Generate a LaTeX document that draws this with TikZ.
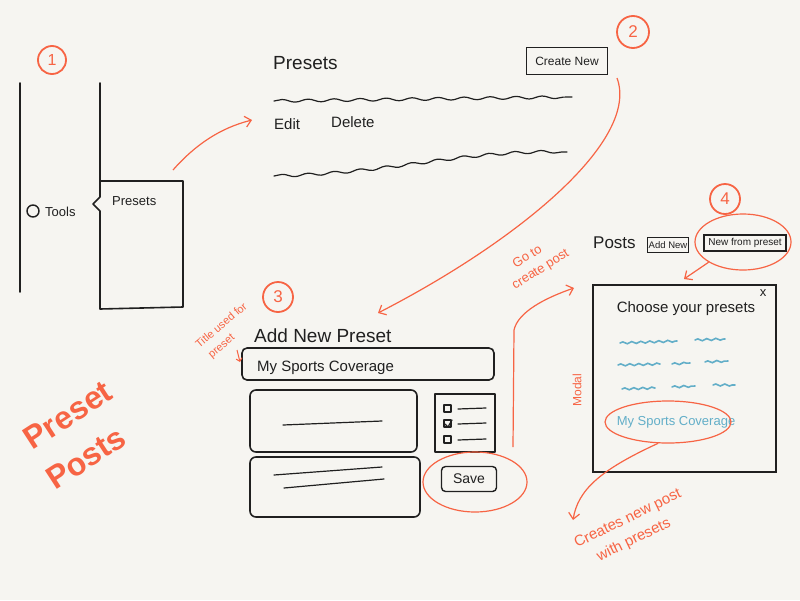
\documentclass[tikz,border=0pt]{standalone}
\usepackage{fontspec}
\setmainfont{Liberation Sans}
\definecolor{skorange}{RGB}{247,100,68}
\definecolor{skblue}{RGB}{98,174,200}
\definecolor{skink}{RGB}{32,32,32}
\definecolor{skpaper}{RGB}{246,245,241}
\newcommand{\skfont}[2]{\fontsize{#1}{#2}\selectfont}
\usetikzlibrary{arrows.meta,positioning,shapes.geometric,calc,decorations.pathmorphing}

\begin{document}
\begin{tikzpicture}[x=1pt,y=-1pt,every node/.style={inner sep=1pt,text=skink},
    ink/.style={draw=skink,line width=1.6pt,line cap=round,line join=round},
    btn/.style={draw=skink,line width=1.4pt,inner sep=2pt},
    ring/.style={circle,draw=skorange,line width=1.8pt,text=skorange,inner sep=0pt},
    loopmark/.style={ellipse,draw=skorange,line width=1.2pt,inner sep=0pt},
    note/.style={text=skorange,inner sep=0pt},
    arr/.style={-{Straight Barb[length=6pt,width=11pt]},line width=1.2pt,draw=skorange},
    wave/.style={ink,line width=1.2pt,decorate,decoration={snake,amplitude=1.4pt,segment length=26pt}},
    bluewave/.style={draw=skblue,line width=1.6pt,line cap=round,decorate,decoration={snake,amplitude=1pt,segment length=9pt}}]

  \fill[skpaper] (0,0) rectangle (800,600);
  \useasboundingbox (0,0) rectangle (800,600);

  % sidebar
  \node[ring,minimum size=28pt,font=\skfont{16}{16}] (one) at (52,60) {1};
  \draw[ink] (20,83) -- (20,292);
  \draw[ink] (100,83) -- (100,197) -- (93,204) -- (100,211) -- (100,309)
             -- (183,307) -- (183,181) -- (100,181);
  \node[circle,draw=skink,line width=1.4pt,minimum size=12pt,inner sep=0pt] (toolsdot) at (33,211) {};
  \node[font=\skfont{13}{15},anchor=west] (tools) at (44,212) {Tools};
  \node[font=\skfont{13}{15},anchor=west] (sbpresets) at (111,201) {Presets};

  % presets list
  \node[font=\skfont{19}{22},anchor=west] (listhead) at (272,63) {Presets};
  \node[btn,minimum width=81pt,minimum height=27pt,font=\skfont{12}{14}] (createnew) at (567,61) {Create New};
  \node[ring,minimum size=32pt,font=\skfont{17}{17}] (two) at (633,32) {2};
  \draw[wave] (274,101) -- (572,97);
  \node[font=\skfont{15}{17},anchor=west] (edit) at (273,124) {Edit};
  \node[font=\skfont{15}{17},anchor=west] (delete) at (330,122) {Delete};
  \draw[wave] (274,176) .. controls (400,172) and (450,150) .. (567,152);

  % add new preset form
  \node[ring,minimum size=30pt,font=\skfont{17}{17}] (three) at (278,297) {3};
  \node[font=\skfont{19}{22},anchor=west] (formhead) at (253,336) {Add New Preset};
  \draw[ink,rounded corners=5pt] (242,348) rectangle (494,380);
  \node[font=\skfont{15}{17},anchor=west] (fieldtext) at (256,368) {My Sports Coverage};
  \draw[ink,rounded corners=6pt] (250,390) rectangle (417,452);
  \draw[ink,line width=1.2pt] (283,425) -- (382,421);
  \draw[ink,rounded corners=6pt] (250,457) rectangle (420,517);
  \draw[ink,line width=1.2pt] (274,475) -- (382,467);
  \draw[ink,line width=1.2pt] (284,488) -- (384,479);
  \draw[ink] (435,394) rectangle (495,452);
  \foreach \yy in {409,424,440}{
    \draw[ink,line width=1.2pt] (444,\yy-4) rectangle (451,\yy+3);
    \draw[ink,line width=1.2pt] (458,\yy) -- (486,\yy-1);
  }
  \draw[ink,line width=1.2pt] (445,424) -- (448,427) -- (452,420);
  \node[btn,rounded corners=4pt,minimum width=55pt,minimum height=25pt,font=\skfont{14}{16}] (save) at (469,479) {Save};
  \node[loopmark,minimum width=104pt,minimum height=60pt] (saveloop) at (475,482) {};

  % posts screen
  \node[font=\skfont{17}{19},anchor=west] (posts) at (592,243) {Posts};
  \node[btn,font=\skfont{9.5}{11},minimum width=40pt,minimum height=15pt,inner sep=1pt] (addnew) at (668,245) {Add New};
  \node[btn,font=\skfont{10}{12},minimum width=82pt,minimum height=16pt,inner sep=1pt] (fromprst) at (745,243) {New from preset};
  \node[ring,minimum size=30pt,font=\skfont{17}{17}] (four) at (725,199) {4};
  \node[loopmark,minimum width=96pt,minimum height=56pt] (fromloop) at (743,242) {};

  % modal
  \node[draw=skink,line width=2.2pt,minimum width=183pt,minimum height=187pt] (modal) at (684.5,378.5) {};
  \node[font=\skfont{13}{13}] (closex) at (763,293) {x};
  \node[font=\skfont{15}{17}] (choose) at (686,309) {Choose your presets};
  \draw[bluewave] (620,343) -- (677,341);
  \draw[bluewave] (695,340) -- (725,339);
  \draw[bluewave] (618,365) -- (660,364);
  \draw[bluewave] (672,364) -- (690,363);
  \draw[bluewave] (705,362) -- (728,361);
  \draw[bluewave] (622,389) -- (655,388);
  \draw[bluewave] (672,387) -- (695,386);
  \draw[bluewave] (713,385) -- (735,385);
  \node[font=\skfont{13}{15},text=skblue] (pickme) at (676,422) {My Sports Coverage};
  \node[loopmark,minimum width=126pt,minimum height=42pt] (pickloop) at (668,422) {};
  \node[note,rotate=90,font=\skfont{12}{14}] (modalnote) at (577,390) {Modal};

  % orange notes
  \node[note,rotate=40,font=\skfont{11}{12}] (titlenote) at (221,325) {Title used for};
  \node[note,rotate=40,font=\skfont{11}{12}] (titlenote2) at (222,347) {preset};
  \node[note,rotate=32,font=\skfont{13}{15}] (gonote) at (527,256) {Go to};
  \node[note,rotate=32,font=\skfont{13}{15}] (gonote2) at (541,270) {create post};
  \node[note,rotate=26,font=\skfont{15}{17}] (createsnote) at (628,519) {Creates new post};
  \node[note,rotate=26,font=\skfont{15}{17}] (createsnote2) at (634,540) {with presets};
  \node[note,rotate=33,font=\bfseries\skfont{32}{34}] (bigpreset) at (68,415) {Preset};
  \node[note,rotate=33,font=\bfseries\skfont{32}{34}] (bigposts) at (86,458) {Posts};

  % flow arrows
  \coordinate (sbtop) at (173,170);
  \coordinate (listin) at (252,120);
  \coordinate (cnout) at (617,78);
  \coordinate (formin) at (378,313);
  \coordinate (golift) at (513,447);
  \coordinate (modalin) at (574,288);
  \coordinate (modaltop) at (684,279);
  \coordinate (createsin) at (573,520);
  \coordinate (titletail) at (237,350);
  \coordinate (titletip) at (240,362);
  \draw[arr] (sbtop) .. controls (195,145) and (220,128) .. (listin);
  \draw[arr] (cnout) .. controls (640,140) and (520,240) .. (formin);
  \draw[arr] (golift) -- (514,330) .. controls (518,312) and (545,298) .. (modalin);
  \draw[arr] (fromloop.south west) -- (modaltop);
  \draw[arr] (pickloop.-115) .. controls (600,470) and (578,490) .. (createsin);
  \draw[arr,line width=1pt,-{Straight Barb[length=3pt,width=6pt]}] (titletail) -- (titletip);
\end{tikzpicture}
\end{document}
